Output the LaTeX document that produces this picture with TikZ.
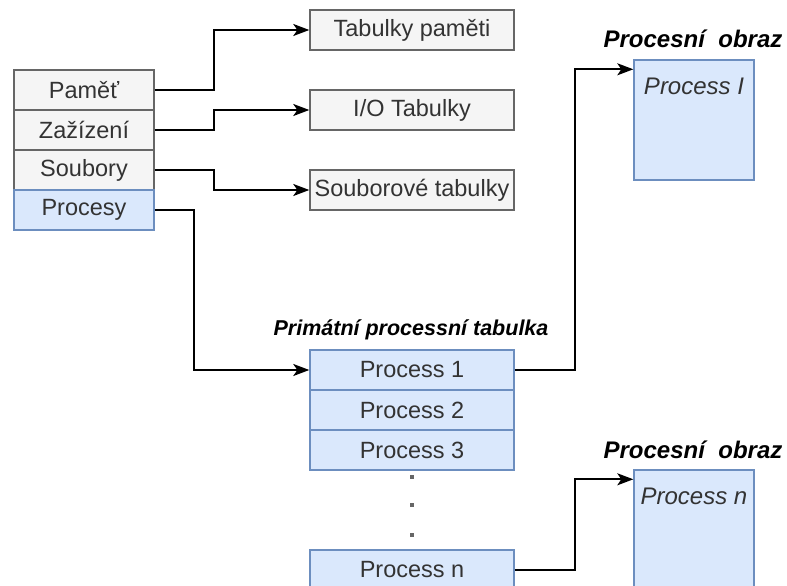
\documentclass[tikz,border=0pt]{standalone}
\usepackage{fontspec}
\setmainfont{Liberation Sans}
\usetikzlibrary{arrows.meta,calc}
\definecolor{grayfill}{HTML}{F5F5F5}
\definecolor{graystroke}{HTML}{666666}
\definecolor{bluefill}{HTML}{DAE8FC}
\definecolor{bluestroke}{HTML}{6C8EBF}
\definecolor{txt}{HTML}{333333}
\begin{document}
\begin{tikzpicture}[x=1pt,y=-1pt,
  cell/.style={rectangle,draw,line width=1.4pt,inner sep=0pt,text=txt,
    font=\fontsize{23.5}{26}\selectfont},
  graycell/.style={cell,fill=grayfill,draw=graystroke},
  bluecell/.style={cell,fill=bluefill,draw=bluestroke},
  imgbox/.style={rectangle,draw=bluestroke,fill=bluefill,line width=1.4pt,
    minimum width=120pt,minimum height=120pt,inner sep=0pt},
  imgtext/.style={text=txt,font=\fontsize{24}{26}\selectfont\itshape},
  caption/.style={text=black,font=\bfseries\itshape},
  conn/.style={draw=black,line width=1.8pt,
    -{Stealth[length=16pt,width=12pt,inset=4pt]}},
  dot/.style={rectangle,fill=graystroke,minimum size=3.5pt,inner sep=0pt}
]
\useasboundingbox (0,0) rectangle (787,586);

% resource table on the left
\node[graycell,minimum width=140pt,minimum height=40pt] (mem)  at (84,90)  {Paměť};
\node[graycell,minimum width=140pt,minimum height=40pt] (dev)  at (84,130) {Zažízení};
\node[graycell,minimum width=140pt,minimum height=40pt] (file) at (84,170) {Soubory};
\node[bluecell,minimum width=140pt,minimum height=40pt] (proc) at (84,210) {Procesy};

% tables for memory, I/O and files
\node[graycell,minimum width=204pt,minimum height=40pt] (tmem)  at (412,30)  {Tabulky paměti};
\node[graycell,minimum width=204pt,minimum height=40pt] (tio)   at (412,110) {I/O Tabulky};
\node[graycell,minimum width=204pt,minimum height=40pt] (tfile) at (412,190) {Souborové tabulky};

% primary process table
\node[caption,font=\fontsize{21.5}{24}\selectfont\bfseries\itshape,anchor=base] (ptcap) at (411,335) {Primátní processní tabulka};
\node[bluecell,minimum width=204pt,minimum height=40pt] (p1) at (412,370) {Process 1};
\node[bluecell,minimum width=204pt,minimum height=40pt] (p2) at (412,410) {Process 2};
\node[bluecell,minimum width=204pt,minimum height=40pt] (p3) at (412,450) {Process 3};
\node[dot] (d1) at (412,477) {};
\node[dot] (d2) at (412,505) {};
\node[dot] (d3) at (412,535) {};
\node[bluecell,minimum width=204pt,minimum height=40pt] (pn) at (412,570) {Process n};

% process images
\node[caption,font=\fontsize{24}{26}\selectfont\bfseries\itshape,anchor=base] (cap1) at (693,48) {Procesní\ \ obraz};
\node[imgbox] (img1) at (694,120) {};
\node[imgtext,anchor=base] (img1t) at (694,94) {Process I};

\node[caption,font=\fontsize{24}{26}\selectfont\bfseries\itshape,anchor=base] (cap2) at (693,458) {Procesní\ \ obraz};
\node[imgbox] (imgn) at (694,530) {};
\node[imgtext,anchor=base] (imgnt) at (694,504) {Process n};

% connectors
\draw[conn] (mem.east)  -- ++(59,0) |- (tmem.west);
\draw[conn] (dev.east)  -- ++(59,0) |- (tio.west);
\draw[conn] (file.east) -- ++(59,0) |- (tfile.west);
\draw[conn] (proc.east) -- ++(39,0) |- (p1.west);
\draw[conn] (p1.east) -- ++(60,0) |- ($(img1.north west)+(0,10)$);
\draw[conn] (pn.east) -- ++(60,0) |- ($(imgn.north west)+(0,10)$);
\end{tikzpicture}
\end{document}
